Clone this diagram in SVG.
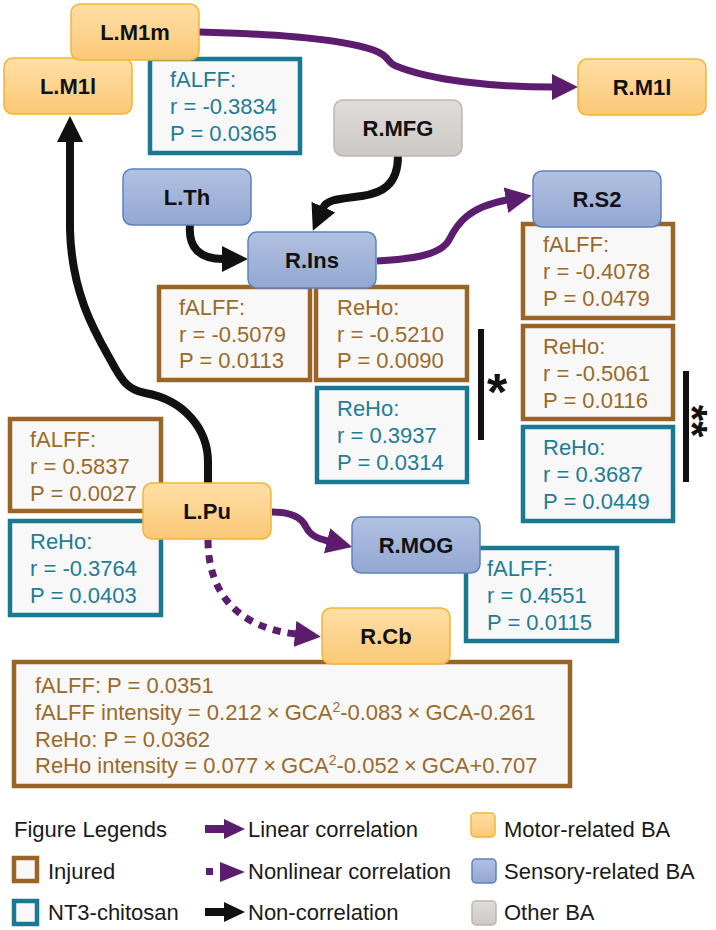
<svg xmlns="http://www.w3.org/2000/svg" width="716" height="930" viewBox="0 0 716 930">
<defs>
<linearGradient id="gOr" x1="0" y1="0" x2="0" y2="1"><stop offset="0" stop-color="#FFDFA6"/><stop offset="1" stop-color="#FBC877"/></linearGradient>
<linearGradient id="gBl" x1="0" y1="0" x2="0" y2="1"><stop offset="0" stop-color="#B1C1E1"/><stop offset="1" stop-color="#93A7D1"/></linearGradient>
<linearGradient id="gGr" x1="0" y1="0" x2="0" y2="1"><stop offset="0" stop-color="#E0DCD9"/><stop offset="1" stop-color="#CDC8C4"/></linearGradient>
<marker id="aP" markerUnits="userSpaceOnUse" viewBox="0 0 26 26" markerWidth="26" markerHeight="26" refX="1" refY="13" orient="auto"><path d="M0,0 L26,13 L0,26 z" fill="#5C1D6E"/></marker>
<marker id="aK" markerUnits="userSpaceOnUse" viewBox="0 0 26 26" markerWidth="26" markerHeight="26" refX="1" refY="13" orient="auto"><path d="M0,0 L26,13 L0,26 z" fill="#111"/></marker>
</defs>
<style>
text{font-family:"Liberation Sans",Arial,sans-serif;font-size:22px}
.nl{font-weight:bold;fill:#111;text-anchor:middle}
.or{fill:url(#gOr);stroke:#F2B632;stroke-width:1.5}
.bl{fill:url(#gBl);stroke:#5B82BE;stroke-width:1.5}
.gr{fill:url(#gGr);stroke:#BDB7B1;stroke-width:1.5}
.bb{fill:#F8F8F8;stroke:#9A6524;stroke-width:4.5}
.tb{fill:#F8F8F8;stroke:#1B7892;stroke-width:4.5}
.bt{fill:#9A6A2A}
.tt{fill:#1F7C96}
.cp{fill:none;stroke:#5C1D6E;stroke-width:7;marker-end:url(#aP)}
.ck{fill:none;stroke:#111;stroke-width:8;marker-end:url(#aK)}
.lg{fill:#1a1a1a}
.ast{font-size:52px;font-weight:bold;fill:#111;text-anchor:middle}
</style>
<rect width="716" height="930" fill="#fff"/>

<g id="stat-boxes">
<g id="box-LM1m-falff"><rect class="tb" x="150" y="59" width="150" height="94"/><text class="tt" x="170" y="87">fALFF:</text><text class="tt" x="170" y="114">r = -0.3834</text><text class="tt" x="170" y="141">P = 0.0365</text></g>
<g id="box-RIns-falff"><rect class="bb" x="159" y="287" width="151" height="93"/><text class="bt" x="179" y="315">fALFF:</text><text class="bt" x="179" y="342">r = -0.5079</text><text class="bt" x="179" y="368">P = 0.0113</text></g>
<g id="box-RIns-reho-inj"><rect class="bb" x="316" y="287" width="151" height="93"/><text class="bt" x="337" y="315">ReHo:</text><text class="bt" x="337" y="342">r = -0.5210</text><text class="bt" x="337" y="368">P = 0.0090</text></g>
<g id="box-RIns-reho-nt3"><rect class="tb" x="317" y="388" width="150" height="94"/><text class="tt" x="337" y="416">ReHo:</text><text class="tt" x="337" y="443">r = 0.3937</text><text class="tt" x="337" y="470">P = 0.0314</text></g>
<g id="box-RS2-falff"><rect class="bb" x="523" y="224" width="150" height="94"/><text class="bt" x="543" y="252">fALFF:</text><text class="bt" x="543" y="279">r = -0.4078</text><text class="bt" x="543" y="306">P = 0.0479</text></g>
<g id="box-RS2-reho-inj"><rect class="bb" x="523" y="326" width="150" height="93"/><text class="bt" x="543" y="354">ReHo:</text><text class="bt" x="543" y="381">r = -0.5061</text><text class="bt" x="543" y="408">P = 0.0116</text></g>
<g id="box-RS2-reho-nt3"><rect class="tb" x="523" y="427" width="150" height="94"/><text class="tt" x="543" y="455">ReHo:</text><text class="tt" x="543" y="482">r = 0.3687</text><text class="tt" x="543" y="509">P = 0.0449</text></g>
<g id="box-LPu-falff"><rect class="bb" x="10" y="419" width="151" height="92"/><text class="bt" x="30" y="447">fALFF:</text><text class="bt" x="30" y="474">r = 0.5837</text><text class="bt" x="30" y="501">P = 0.0027</text></g>
<g id="box-LPu-reho"><rect class="tb" x="10" y="521" width="151" height="94"/><text class="tt" x="30" y="549">ReHo:</text><text class="tt" x="30" y="576">r = -0.3764</text><text class="tt" x="30" y="603">P = 0.0403</text></g>
<g id="box-RMOG-falff"><rect class="tb" x="466" y="548" width="151" height="93"/><text class="tt" x="487" y="576">fALFF:</text><text class="tt" x="487" y="603">r = 0.4551</text><text class="tt" x="487" y="630">P = 0.0115</text></g>
<g id="box-RCb"><rect class="bb" x="14" y="662" width="556" height="124"/>
<text class="bt" x="35" y="693">fALFF: P = 0.0351</text>
<text class="bt" x="35" y="720">fALFF intensity = 0.212<tspan dx="5">×</tspan><tspan dx="5">GCA</tspan><tspan font-size="14" dy="-8">2</tspan><tspan dy="8">-0.083</tspan><tspan dx="5">×</tspan><tspan dx="5">GCA-0.261</tspan></text>
<text class="bt" x="35" y="747">ReHo: P = 0.0362</text>
<text class="bt" x="35" y="773">ReHo intensity = 0.077<tspan dx="5">×</tspan><tspan dx="5">GCA</tspan><tspan font-size="14" dy="-8">2</tspan><tspan dy="8">-0.052</tspan><tspan dx="5">×</tspan><tspan dx="5">GCA+0.707</tspan></text>
</g>
</g>

<g id="significance">
<rect x="478" y="329" width="6" height="111" fill="#111"/>
<text class="ast" x="497" y="410">*</text>
<rect x="683" y="371" width="6" height="111" fill="#111"/>
<text class="ast" style="font-size:42px" transform="translate(702,421) rotate(90)" x="0" y="24">**</text>
</g>

<g id="connectors">
<path class="cp" d="M199,32 C280,34 350,40 378,52 C390,57 386,62 396,66 C430,80 490,87 553,87"/>
<path class="ck" d="M208,483 L208,462 C208,430 185,400 145,393 C128,390 122,380 115,368 C100,340 72,300 70,230 L70,141"/>
<path class="ck" d="M190,225 C188,248 200,259 223,259"/>
<path class="ck" d="M398,156 C398,185 382,193 362,196 C340,199 327,199 323,208"/>
<path class="cp" d="M377,261 C410,259 440,256 449,240 C457,224 468,207 507,200"/>
<path class="cp" d="M272,512 C292,512 302,518 306,527 C310,535 316,538 328,541"/>
<path class="cp" d="M208,540 C208,595 240,628 296,634" stroke-dasharray="8 7"/>
</g>

<g id="nodes">
<g id="L.M1l"><rect class="or" x="4" y="58" width="128" height="56" rx="9"/><text class="nl" x="68" y="94">L.M1l</text></g>
<g id="L.M1m"><rect class="or" x="71" y="4" width="128" height="56" rx="9"/><text class="nl" x="135" y="40">L.M1m</text></g>
<g id="R.M1l"><rect class="or" x="578" y="59" width="128" height="56" rx="9"/><text class="nl" x="642" y="95">R.M1l</text></g>
<g id="R.MFG"><rect class="gr" x="334" y="100" width="128" height="56" rx="9"/><text class="nl" x="398" y="136">R.MFG</text></g>
<g id="L.Th"><rect class="bl" x="123" y="169" width="128" height="56" rx="9"/><text class="nl" x="187" y="205">L.Th</text></g>
<g id="R.Ins"><rect class="bl" x="248" y="232" width="128" height="56" rx="9"/><text class="nl" x="312" y="268">R.Ins</text></g>
<g id="R.S2"><rect class="bl" x="533" y="171" width="128" height="56" rx="9"/><text class="nl" x="597" y="207">R.S2</text></g>
<g id="L.Pu"><rect class="or" x="143" y="483" width="128" height="56" rx="9"/><text class="nl" x="207" y="519">L.Pu</text></g>
<g id="R.MOG"><rect class="bl" x="352" y="517" width="128" height="56" rx="9"/><text class="nl" x="416" y="553">R.MOG</text></g>
<g id="R.Cb"><rect class="or" x="322" y="608" width="128" height="56" rx="9"/><text class="nl" x="386" y="644">R.Cb</text></g>
</g>

<g id="legend">
<text class="lg" x="14" y="837">Figure Legends</text>
<rect class="bb" x="14" y="858" width="23" height="23"/><text class="lg" x="48" y="879">Injured</text>
<rect class="tb" x="14" y="901" width="23" height="23"/><text class="lg" x="48" y="920">NT3-chitosan</text>
<line x1="205" y1="829" x2="226" y2="829" stroke="#5C1D6E" stroke-width="8"/><path d="M224,819 L245,829 L224,839 z" fill="#5C1D6E"/><text class="lg" x="248" y="837">Linear correlation</text>
<rect x="206" y="868" width="7" height="7" fill="#5C1D6E"/><path d="M220,862 L245,872 L220,882 z" fill="#5C1D6E"/><text class="lg" x="248" y="879">Nonlinear correlation</text>
<line x1="205" y1="912" x2="226" y2="912" stroke="#111" stroke-width="8"/><path d="M224,902 L245,912 L224,922 z" fill="#111"/><text class="lg" x="248" y="920">Non-correlation</text>
<rect class="or" x="471" y="813" width="24" height="24" rx="4"/><text class="lg" x="504" y="837">Motor-related BA</text>
<rect class="bl" x="472" y="859" width="24" height="24" rx="4"/><text class="lg" x="504" y="879">Sensory-related BA</text>
<rect class="gr" x="472" y="901" width="24" height="24" rx="4"/><text class="lg" x="504" y="920">Other BA</text>
</g>
</svg>
